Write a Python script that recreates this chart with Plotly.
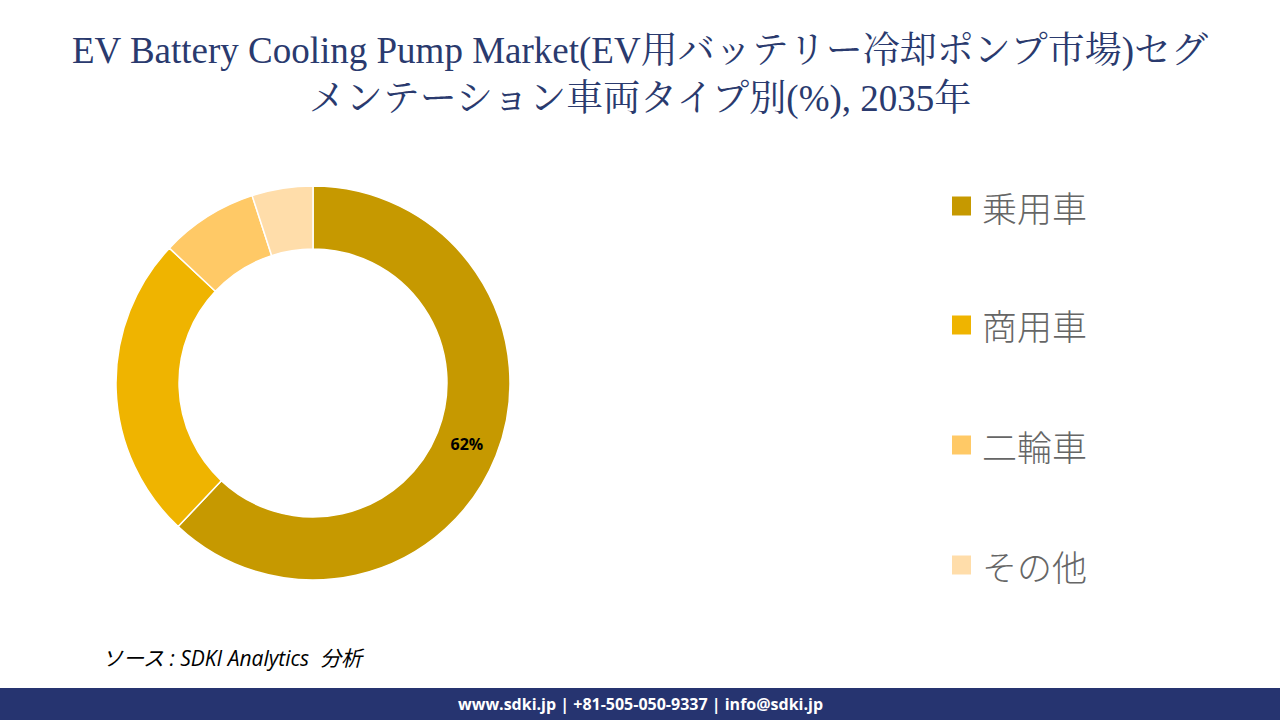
import plotly.graph_objects as go

categories = ["乗用車", "商用車", "二輪車", "その他"]
shares = [62, 25, 8, 5]
colors = ["#C69900", "#EFB400", "#FFC966", "#FFDDAA"]
shown_labels = ["62%", "", "", ""]

title_text = "EV Battery Cooling Pump Market(EV用バッテリー冷却ポンプ市場)セグ<br>メンテーション車両タイプ別(%), 2035年"
source_text = "ソース : SDKI Analytics  分析"
footer_text = "www.sdki.jp | +81-505-050-9337 | info@sdki.jp"

W, H = 1280, 720

fig = go.Figure()
fig.add_trace(go.Pie(
    labels=categories,
    values=shares,
    marker=dict(colors=colors, line=dict(color="white", width=1.5)),
    hole=0.68,
    sort=False,
    direction="clockwise",
    rotation=0,
    text=shown_labels,
    textinfo="text",
    textposition="inside",
    insidetextorientation="horizontal",
    textfont=dict(family="Open Sans, Noto Sans, sans-serif", size=16, color="black", weight="bold"),
    showlegend=False,
    domain=dict(x=[116 / W, 510 / W], y=[1 - 580 / H, 1 - 186 / H]),
    hoverinfo="label+percent",
))

shapes = []
annotations = []

# Legend built from categories
legend_y = [206, 325, 445, 565]
for cat, col, ly in zip(categories, colors, legend_y):
    shapes.append(dict(type="rect", xref="paper", yref="paper",
                       x0=952 / W, x1=971 / W, y0=1 - (ly + 9.5) / H, y1=1 - (ly - 9.5) / H,
                       fillcolor=col, line=dict(width=0)))
    annotations.append(dict(text=cat, xref="paper", yref="paper", x=980 / W, y=1 - ly / H,
                            xanchor="left", yanchor="middle", showarrow=False,
                            font=dict(family="Noto Sans CJK JP, sans-serif", size=35, color="#666666", weight=300)))

# Title
annotations.append(dict(text=title_text, xref="paper", yref="paper", x=0.5, y=1 - 75 / H,
                        xanchor="center", yanchor="middle", showarrow=False, align="center",
                        font=dict(family="Liberation Serif, Noto Serif CJK JP, serif", size=37, color="#2A3A6E")))

# Source
annotations.append(dict(text="<i>" + source_text + "</i>", xref="paper", yref="paper", x=100 / W, y=1 - 658 / H,
                        xanchor="left", yanchor="middle", showarrow=False,
                        font=dict(family="Open Sans, Noto Sans CJK JP, sans-serif", size=21, color="black")))

# Footer band
shapes.append(dict(type="rect", xref="paper", yref="paper", x0=0, x1=1, y0=0, y1=1 - 688 / H,
                   fillcolor="#263470", line=dict(width=0), layer="below"))
annotations.append(dict(text="<b>" + footer_text + "</b>", xref="paper", yref="paper", x=0.5, y=1 - 704 / H,
                        xanchor="center", yanchor="middle", showarrow=False,
                        font=dict(family="Open Sans, sans-serif", size=16, color="white")))

fig.update_layout(
    width=W, height=H,
    margin=dict(l=0, r=0, t=0, b=0),
    paper_bgcolor="white",
    plot_bgcolor="white",
    shapes=shapes,
    annotations=annotations,
    uniformtext=dict(minsize=16, mode="show"),
)

fig.write_html("out.html")
